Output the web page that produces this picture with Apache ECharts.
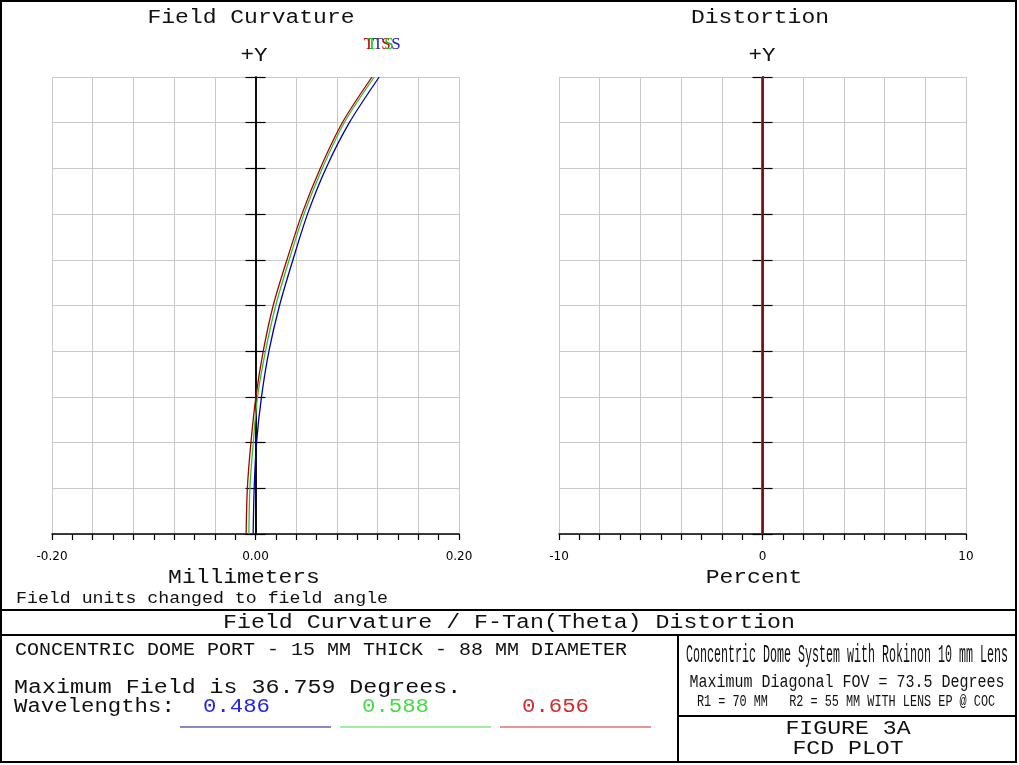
<!DOCTYPE html>
<html>
<head>
<meta charset="utf-8">
<script src="https://cdn.jsdelivr.net/npm/echarts@6/dist/echarts.min.js"></script>
<style>
html,body{margin:0;padding:0;background:#fff;}
#chart{width:1019px;height:765px;}
</style>
</head>
<body>
<div id="chart"></div>
<script>
// ---- data ----
const fieldFractions = [0, 0.1, 0.2, 0.3, 0.4, 0.5, 0.6, 0.7, 0.8, 0.9, 1.0];
// field curvature (mm) per wavelength (T and S coincide)
const fcBlue486  = [-0.0023, -0.0013, 0.0010, 0.0059, 0.0132, 0.0236, 0.0368, 0.0511, 0.0692, 0.0922, 0.1216];
const fcGreen588 = [-0.0065, -0.0055, -0.0022, 0.0020, 0.0098, 0.0199, 0.0331, 0.0476, 0.0656, 0.0872, 0.1167];
const fcRed656   = [-0.0092, -0.0080, -0.0045, 0.0004, 0.0076, 0.0174, 0.0309, 0.0456, 0.0636, 0.0853, 0.1145];
// distortion (%) per wavelength
const distBlue486  = [0, 0, 0, 0, 0, 0, 0, 0, 0, 0, 0];
const distGreen588 = [0, 0, 0, 0, 0, 0, 0, 0, 0, 0, 0];
const distRed656   = [0, 0, 0, 0, 0, 0, 0, 0, 0, 0, 0];
// tick labels
const fcTickValues = [-0.2, 0, 0.2];
const fcTickLabels = ['-0.20', '0.00', '0.20'];
const distTickValues = [-10, 0, 10];
const distTickLabels = ['-10', '0', '10'];
const wavelengths = ['0.486', '0.588', '0.656'];

const MONO = '"Liberation Mono", "Courier New", monospace';
const pair = (xs) => xs.map((x, i) => [x, fieldFractions[i]]);
const labelFmt = (vals, texts) => (v) => {
  const i = vals.findIndex(t => Math.abs(t - v) < 1e-9);
  return i >= 0 ? texts[i] : '';
};

function xAxisDef(grid, min, max, interval, vals, texts) {
  return {
    type: 'value', gridIndex: grid, min: min, max: max, interval: interval, position: 'bottom',
    axisLine: { show: true, onZero: false, lineStyle: { color: '#000', width: 1.5 } },
    axisTick: { show: true, inside: false, length: 6, lineStyle: { color: '#000', width: 1.2 } },
    minorTick: { show: true, splitNumber: 2, length: 6, lineStyle: { color: '#000', width: 1.2 } },
    splitLine: { show: true, lineStyle: { color: '#c9c9c9', width: 1 } },
    axisLabel: { show: true, margin: 17, fontFamily: 'DejaVu Sans', fontSize: 12, color: '#000',
      showMinLabel: true, showMaxLabel: true, hideOverlap: false,
      formatter: labelFmt(vals, texts) }
  };
}
function hiddenXAxis(grid, min, max) {
  return { type: 'value', gridIndex: grid, min: min, max: max, show: false, position: 'top',
    axisLine: { onZero: false }, splitLine: { show: false } };
}
function yAxisDef(grid, pos, split) {
  return {
    type: 'value', gridIndex: grid, min: 0, max: 1, interval: 0.1, position: pos,
    axisLine: { show: true, onZero: true, lineStyle: { color: '#000', width: 1.5 } },
    axisTick: { show: true, inside: false, length: 10, lineStyle: { color: '#000', width: 1.2 } },
    axisLabel: { show: false },
    splitLine: { show: split, lineStyle: { color: '#c9c9c9', width: 1 } }
  };
}
function lineSeries(xi, yi, data, color, width) {
  return {
    type: 'line', xAxisIndex: xi, yAxisIndex: yi, data: pair(data),
    symbol: 'none', smooth: 0.3, animation: false,
    lineStyle: { color: color, width: width }, itemStyle: { color: color }, z: 3
  };
}

// text: size = font px, adv = wanted character advance (px)
const txt = (text, x, y, size, adv, opts) => {
  opts = opts || {};
  const el = {
    type: 'text', x: x, y: y, silent: true, z: 100,
    scaleX: adv ? adv / (0.6 * size) : 1,
    style: {
      text: text, fill: opts.color || '#111',
      font: (opts.weight ? opts.weight + ' ' : '') + size + 'px ' + (opts.family || MONO),
      textAlign: opts.align || 'center', align: opts.align || 'center',
      textVerticalAlign: 'middle', verticalAlign: 'middle'
    }
  };
  return el;
};
const hline = (x1, x2, y, w, c) => ({ type: 'line', silent: true, z: 100,
  shape: { x1: x1, y1: y, x2: x2, y2: y }, style: { stroke: c || '#000', lineWidth: w || 2 } });
const vline = (x, y1, y2, w) => ({ type: 'line', silent: true, z: 100,
  shape: { x1: x, y1: y1, x2: x, y2: y2 }, style: { stroke: '#000', lineWidth: w || 2 } });

const chart = echarts.init(document.getElementById('chart'), null, { renderer: 'canvas' });
chart.setOption({
  animation: false,
  backgroundColor: '#fff',
  grid: [
    { left: 52, top: 77, width: 407, height: 457 },
    { left: 559, top: 77, width: 407, height: 457 }
  ],
  xAxis: [
    xAxisDef(0, -0.2, 0.2, 0.04, fcTickValues, fcTickLabels),
    xAxisDef(1, -10, 10, 2, distTickValues, distTickLabels),
    hiddenXAxis(0, -0.2, 0.2),
    hiddenXAxis(1, -10, 10)
  ],
  yAxis: [
    yAxisDef(0, 'left', true), yAxisDef(0, 'right', false),
    yAxisDef(1, 'left', true), yAxisDef(1, 'right', false)
  ],
  series: [
    lineSeries(0, 0, fcBlue486, '#0000a8', 1.3),
    lineSeries(0, 0, fcGreen588, '#30c030', 1.3),
    lineSeries(0, 0, fcRed656, '#a80000', 1.3),
    lineSeries(1, 2, distBlue486, '#0000a8', 2),
    lineSeries(1, 2, distGreen588, '#30c030', 2),
    lineSeries(1, 2, distRed656, '#7a0c0c', 2)
  ],
  graphic: [
    { type: 'rect', silent: true, z: 100, shape: { x: 1, y: 1, width: 1015, height: 761 },
      style: { fill: 'none', stroke: '#000', lineWidth: 2 } },
    hline(0, 1017, 610, 2), hline(0, 1017, 635, 2),
    vline(678, 635, 763, 2), hline(678, 1017, 716, 2),

    txt('Field Curvature', 251, 18, 20, 13.8),
    txt('Distortion', 760, 18, 20, 13.8),
    txt('+Y', 254, 56, 20, 13.5),
    txt('+Y', 762, 56, 20, 13.5),
    // legend letters T T S S (one per wavelength, overlapping)
    txt('T', 369, 45, 17, 0, { color: '#c00000', family: 'Liberation Serif' }),
    txt('T', 372, 45, 17, 0, { color: '#20c020', family: 'Liberation Serif' }),
    txt('T', 378, 45, 17, 0, { color: '#303090', family: 'Liberation Serif' }),
    txt('S', 386, 45, 17, 0, { color: '#c00000', family: 'Liberation Serif' }),
    txt('S', 389, 45, 17, 0, { color: '#20c020', family: 'Liberation Serif' }),
    txt('S', 396, 45, 17, 0, { color: '#2020c0', family: 'Liberation Serif' }),

    txt('Millimeters', 244, 578, 20, 13.8),
    txt('Percent', 754, 578, 20, 13.8),
    txt('Field units changed to field angle', 16, 599, 16, 10.94, { align: 'left' }),
    txt('Field Curvature / F-Tan(Theta) Distortion', 509, 623, 20, 13.95),

    txt('CONCENTRIC DOME PORT - 15 MM THICK - 88 MM DIAMETER', 15, 650, 18, 12, { align: 'left' }),
    txt('Maximum Field is 36.759 Degrees.', 14, 688, 20, 13.97, { align: 'left' }),
    txt('Wavelengths:', 14, 707, 20, 13.4, { align: 'left' }),
    txt(wavelengths[0], 203, 707, 20, 13.4, { align: 'left', color: '#2424e8' }),
    txt(wavelengths[1], 362, 707, 20, 13.4, { align: 'left', color: '#44dd44' }),
    txt(wavelengths[2], 522, 707, 20, 13.4, { align: 'left', color: '#d42a2a' }),
    hline(180, 331, 727, 1.2, '#14148c'),
    hline(340, 491, 727, 1.2, '#44dd44'),
    hline(500, 651, 727, 1.2, '#d42a2a'),

    txt('Concentric Dome System with Rokinon 10 mm Lens', 847, 655, 26, 7.0),
    txt('Maximum Diagonal FOV = 73.5 Degrees', 847, 682, 18, 9.0),
    txt('R1 = 70 MM   R2 = 55 MM WITH LENS EP @ COC', 846, 701, 17, 7.1),
    txt('FIGURE 3A', 848, 729, 20, 13.9),
    txt('FCD PLOT', 848, 749, 20, 13.9)
  ]
});
</script>
</body>
</html>
